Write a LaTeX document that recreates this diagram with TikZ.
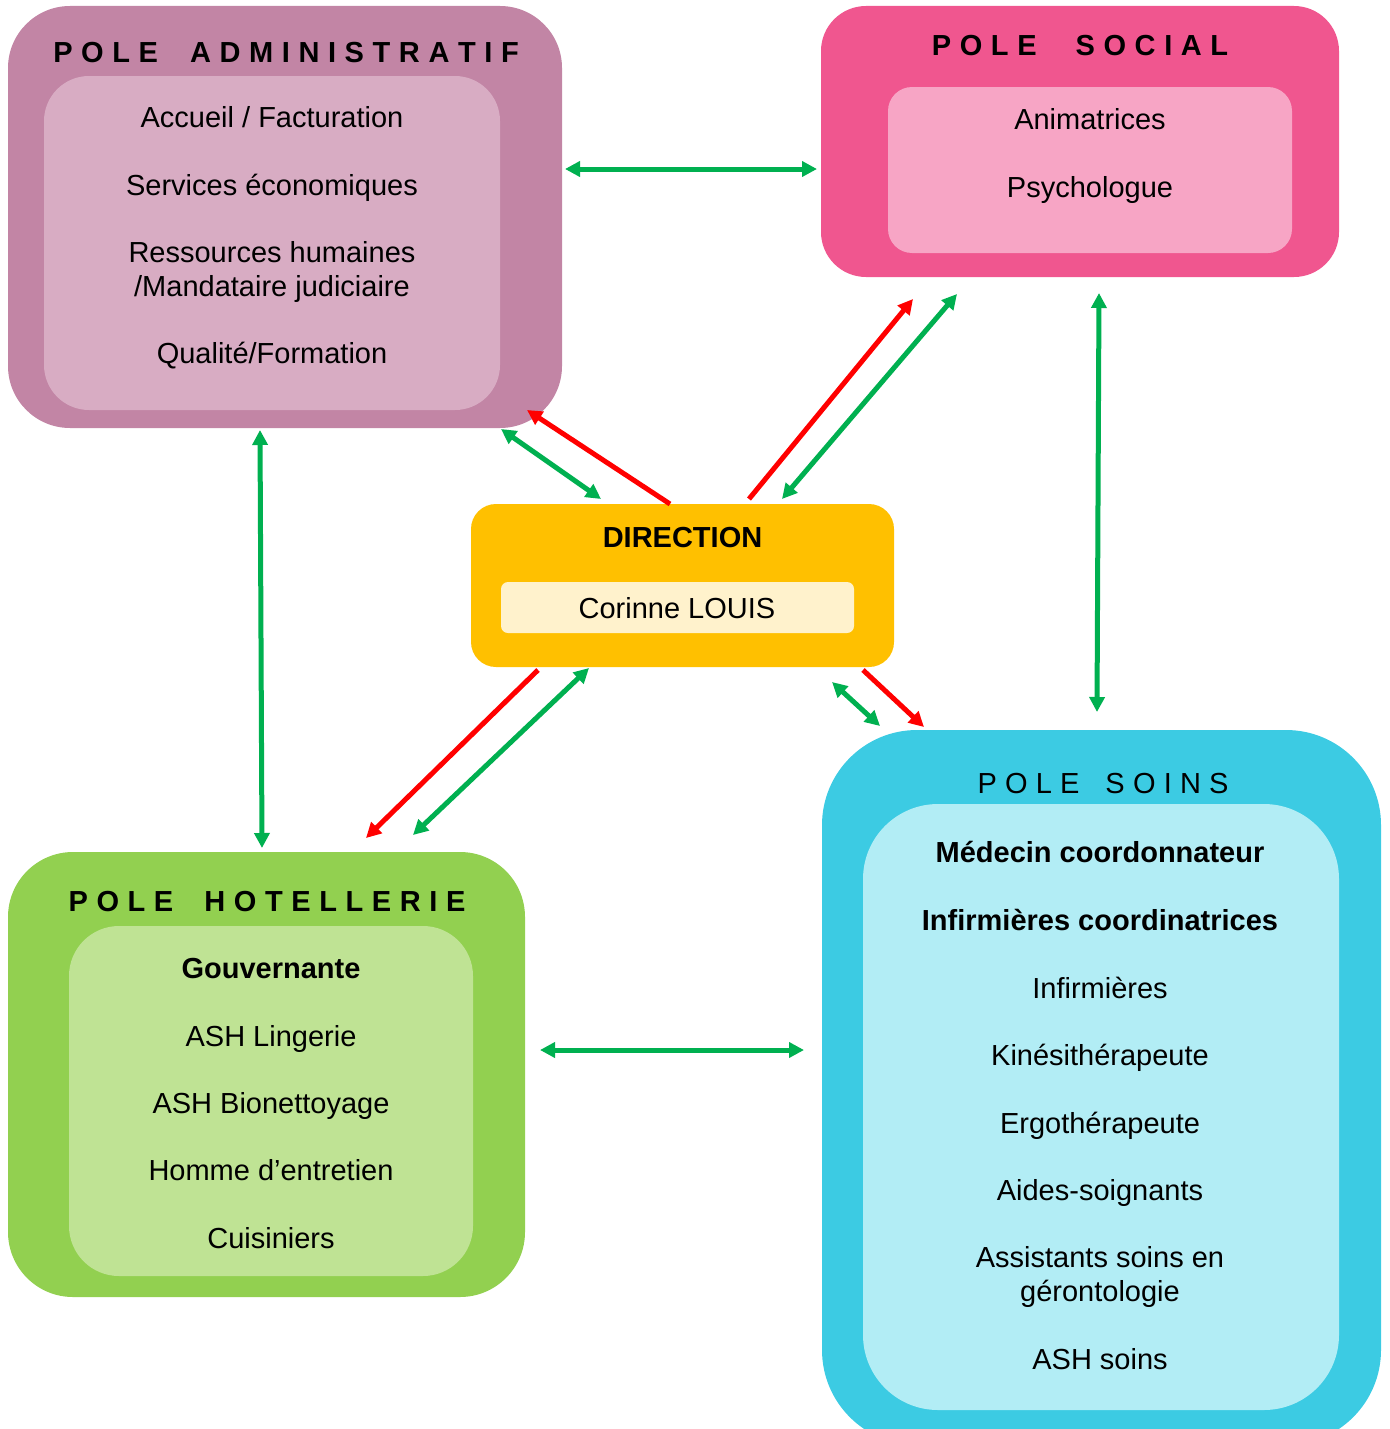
\documentclass[tikz,border=0pt]{standalone}
\usepackage{fontspec}
\setmainfont{Liberation Sans}
\usetikzlibrary{arrows.meta}
\definecolor{admout}{RGB}{194,133,165}
\definecolor{admin}{RGB}{216,172,195}
\definecolor{socout}{RGB}{240,86,143}
\definecolor{socin}{RGB}{247,165,197}
\definecolor{dirout}{RGB}{255,192,0}
\definecolor{dirin}{RGB}{255,242,204}
\definecolor{hotout}{RGB}{146,208,80}
\definecolor{hotin}{RGB}{191,227,148}
\definecolor{soiout}{RGB}{60,203,227}
\definecolor{soiin}{RGB}{178,237,245}
\definecolor{arrgreen}{RGB}{0,176,80}
\definecolor{arrred}{RGB}{255,0,0}
\newlength\trackamt
\def\spaced#1{\spacedA#1\relax}
\def\spacedA#1#2{#1\ifx#2\relax\else\hspace{\trackamt}\expandafter\spacedA\expandafter#2\fi}
\begin{document}
\begin{tikzpicture}[x=1pt,y=-1pt,
  panel/.style={draw=none, inner sep=0pt, outer sep=0pt},
  txt/.style={anchor=base, inner sep=0pt, font=\fontsize{29}{34}\selectfont},
  btxt/.style={anchor=base, inner sep=0pt, font=\fontsize{29}{34}\selectfont\bfseries},
  tip/.tip={Triangle[length=15pt,width=15pt]},
  garrow/.style={draw=arrgreen, line width=5pt, tip-tip},
  rarrow/.style={draw=arrred, line width=5pt, -tip}]
\useasboundingbox (0,0) rectangle (1389,1429);
\clip (0,0) rectangle (1389,1429);
% ---- panels
\node[panel, fill=admout, rounded corners=62pt, minimum width=554pt, minimum height=422pt] (admO) at (285,217) {};
\node[panel, fill=admin, rounded corners=45pt, minimum width=456pt, minimum height=334pt] (admI) at (272,243) {};
\node[panel, fill=socout, rounded corners=45pt, minimum width=518pt, minimum height=271pt] (socO) at (1080,141.5) {};
\node[panel, fill=socin, rounded corners=24pt, minimum width=404pt, minimum height=166pt] (socI) at (1090,170) {};
\node[panel, fill=dirout, rounded corners=25pt, minimum width=423pt, minimum height=163pt] (dirO) at (682.5,585.5) {};
\node[panel, fill=dirin, rounded corners=7pt, minimum width=353pt, minimum height=51pt] (dirI) at (677.5,607.5) {};
\node[panel, fill=hotout, rounded corners=65pt, minimum width=517pt, minimum height=445pt] (hotO) at (266.5,1074.5) {};
\node[panel, fill=hotin, rounded corners=50pt, minimum width=404pt, minimum height=350pt] (hotI) at (271,1101) {};
\node[panel, fill=soiout, rounded corners=95pt, minimum width=559pt, minimum height=715pt] (soiO) at (1101.5,1087.5) {};
\node[panel, fill=soiin, rounded corners=75pt, minimum width=476pt, minimum height=606pt] (soiI) at (1101,1107) {};
% ---- titles
\node[btxt] (tAdm) at (286,63) {\setlength\trackamt{8.6pt}\spaced{POLE}\hspace{32pt}\spaced{ADMINISTRATIF}};
\node[btxt] (tSoc) at (1080,56) {\setlength\trackamt{8.6pt}\spaced{POLE}\hspace{39pt}\spaced{SOCIAL}};
\node[btxt] (tHot) at (267,911) {\setlength\trackamt{8.6pt}\spaced{POLE}\hspace{31pt}\spaced{HOTELLERIE}};
\node[txt] (tSoi) at (1103,793) {\setlength\trackamt{8.2pt}\spaced{POLE}\hspace{26pt}\spaced{SOINS}};
% ---- administratif
\node[txt] (a1) at (272,127) {Accueil / Facturation};
\node[txt] (a2) at (272,195) {Services économiques};
\node[txt] (a3) at (272,262) {Ressources humaines};
\node[txt] (a4) at (272,296) {/Mandataire judiciaire};
\node[txt] (a5) at (272,363) {Qualité/Formation};
% ---- social
\node[txt] (s1) at (1090,129) {Animatrices};
\node[txt] (s2) at (1090,197) {Psychologue};
% ---- direction
\node[btxt] (d1) at (682.5,547) {DIRECTION};
\node[txt] (d2) at (677,618) {Corinne LOUIS};
% ---- hotellerie
\node[btxt] (h1) at (271,978) {Gouvernante};
\node[txt] (h2) at (271,1046) {ASH Lingerie};
\node[txt] (h3) at (271,1113) {ASH Bionettoyage};
\node[txt] (h4) at (271,1180) {Homme d’entretien};
\node[txt] (h5) at (271,1248) {Cuisiniers};
% ---- soins
\node[btxt] (c1) at (1100,862) {Médecin coordonnateur};
\node[btxt] (c2) at (1100,930) {Infirmières coordinatrices};
\node[txt] (c3) at (1100,998) {Infirmières};
\node[txt] (c4) at (1100,1065) {Kinésithérapeute};
\node[txt] (c5) at (1100,1133) {Ergothérapeute};
\node[txt] (c6) at (1100,1200) {Aides-soignants};
\node[txt] (c7) at (1100,1267) {Assistants soins en};
\node[txt] (c8) at (1100,1301) {gérontologie};
\node[txt] (c9) at (1100,1369) {ASH soins};
% ---- connector end points
\coordinate (p1a) at (565,169);  \coordinate (p1b) at (817,169);
\coordinate (p2a) at (260,430);  \coordinate (p2b) at (262,848);
\coordinate (p3a) at (1099,293); \coordinate (p3b) at (1097,712);
\coordinate (p4a) at (540,1050); \coordinate (p4b) at (804,1050);
\coordinate (r1a) at (670,504);  \coordinate (r1b) at (527,410);
\coordinate (g1a) at (501,429);  \coordinate (g1b) at (601,499);
\coordinate (r2a) at (749,499);  \coordinate (r2b) at (913,299);
\coordinate (g2a) at (957,294);  \coordinate (g2b) at (782,499);
\coordinate (r3a) at (538,670);  \coordinate (r3b) at (366,838);
\coordinate (g3a) at (413,835);  \coordinate (g3b) at (589,668);
\coordinate (g4a) at (832,682);  \coordinate (g4b) at (880,726);
\coordinate (r4a) at (863,670);  \coordinate (r4b) at (924,727);
% ---- connectors
\draw[garrow] (p1a) -- (p1b);
\draw[garrow] (p2a) -- (p2b);
\draw[garrow] (p3a) -- (p3b);
\draw[garrow] (p4a) -- (p4b);
\draw[rarrow] (r1a) -- (r1b);
\draw[garrow] (g1a) -- (g1b);
\draw[rarrow] (r2a) -- (r2b);
\draw[garrow] (g2a) -- (g2b);
\draw[rarrow] (r3a) -- (r3b);
\draw[garrow] (g3a) -- (g3b);
\draw[garrow] (g4a) -- (g4b);
\draw[rarrow] (r4a) -- (r4b);
\end{tikzpicture}
\end{document}
